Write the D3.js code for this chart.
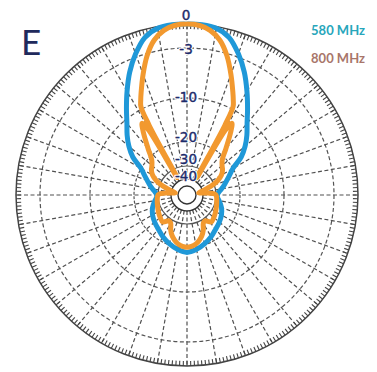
<!DOCTYPE html>
<html>
<head>
<meta charset="utf-8">
<script src="https://cdn.jsdelivr.net/npm/d3@7"></script>
<style>
  body { margin: 0; background: #ffffff; }
  svg { display: block; }
</style>
</head>
<body>
<svg id="chart" width="377" height="372"></svg>
<script>
// Relative gain rings (dB) and the labels printed on the 0° spoke
const ringLevels = [0, -3, -10, -20, -30, -40, -50];
const ringLabels = ["0", "-3", "-10", "-20", "-30", "-40"];

// Legend / plane caption
const seriesNames = ["580 MHz", "800 MHz"];
const planeLabel = "E";

// 580 MHz E-plane pattern: azimuth (deg, clockwise from boresight) and gain (dB)
const angles580 = [-180, -170, -160, -150, -140, -130, -120, -110, -100, -95, -90, -85, -80, -75, -70, -65, -60, -55, -50, -45, -40, -35, -30, -25, -20, -15, -10, -5,
  0, 5, 10, 15, 20, 25, 30, 35, 40, 45, 50, 55, 60, 65, 70, 75, 80, 85, 90, 95, 100, 110, 120, 130, 140, 150, 160, 170];
const gain580 = [-19, -19.5, -20.5, -22, -23.5, -24.5, -25.5, -26.8, -28.5, -29.3, -29.5, -28.8, -27.5, -26, -24.5, -22.5, -20, -17, -14.8, -12.8, -10.8, -8.8, -6.8, -4.6, -2.6, -1.0, -0.2, 0,
  0, 0, -0.2, -1.0, -2.6, -4.6, -6.8, -8.8, -10.8, -12.8, -14.8, -17, -20, -22.5, -24.5, -26, -27.5, -28.8, -29.5, -29.3, -28.5, -26.8, -25.5, -24.5, -23.5, -22, -20.5, -19.5];

// 800 MHz E-plane pattern
const angles800 = [-180, -175, -170, -165, -160, -155, -150, -145, -138, -130, -120, -110, -100, -90, -87, -84, -80, -75, -70, -65, -60, -55, -50, -45, -40, -35, -32, -30.5, -29.5, -28.5, -27.5, -26, -24, -20, -16, -12, -8, -4,
  0, 4, 8, 12, 16, 20, 24, 26, 27.5, 28.5, 29.5, 30.5, 32, 35, 40, 45, 50, 55, 60, 65, 70, 75, 80, 84, 87, 90, 100, 110, 120, 130, 138, 145, 150, 155, 160, 165, 170, 175];
const gain800 = [-20.3, -20.6, -21.3, -22.5, -24, -26, -28.5, -29, -27, -27.5, -28.3, -29, -29.5, -30, -32, -37, -46, -40, -33, -28, -25.5, -24, -23, -21.3, -18.3, -14.8, -12.8, -15, -37, -14, -9.6, -8.8, -7.8, -5.6, -3.3, -1.6, -0.6, -0.1,
  0, -0.1, -0.6, -1.6, -3.3, -5.6, -7.8, -8.8, -9.6, -14, -37, -15, -12.8, -14.8, -18.3, -21.3, -23, -24, -25.5, -28, -33, -40, -46, -37, -32, -30, -29.5, -29, -28.3, -27.5, -27, -29, -28.5, -26, -24, -22.5, -21.3, -20.6];

const seriesColors = ["#1f98d8", "#f2992f"];
const legendColors = ["#27a6bb", "#a8766a"];

// ---- layout ----
const cx = 187, cy = 195;
const outerR = 171;

// Log-style radial scale: dB -> radius
const rScale = d3.scaleLinear()
  .domain([-50, -40, -30, -20, -10, -3, 0])
  .range([9, 16, 29, 53, 97, 147, outerR])
  .clamp(true);

const rad = a => a * Math.PI / 180;

const svg = d3.select("#chart");
const g = svg.append("g").attr("transform", `translate(${cx},${cy})`);

// radial spokes every 10°
g.append("g").selectAll("line")
  .data(d3.range(0, 360, 10))
  .join("line")
  .attr("x1", a => rScale(-40) * Math.sin(rad(a)))
  .attr("y1", a => -rScale(-40) * Math.cos(rad(a)))
  .attr("x2", a => outerR * Math.sin(rad(a)))
  .attr("y2", a => -outerR * Math.cos(rad(a)))
  .attr("stroke", "#505050")
  .attr("stroke-width", 1.2)
  .attr("stroke-dasharray", "4,2.5");

// gain rings
g.append("g").selectAll("circle")
  .data(ringLevels.slice(1))
  .join("circle")
  .attr("r", d => rScale(d))
  .attr("fill", "none")
  .attr("stroke", d => d <= -40 ? "#333" : "#555")
  .attr("stroke-width", d => d <= -40 ? 1.4 : 1.2)
  .attr("stroke-dasharray", d => d >= -10 ? "4,2.5" : (d === -20 ? "3,1.5" : null));

// outer ring with inward degree ticks
g.append("circle")
  .attr("r", outerR)
  .attr("fill", "none")
  .attr("stroke", "#444")
  .attr("stroke-width", 1.5);

g.append("g").selectAll("line")
  .data(d3.range(0, 360, 1.25))
  .join("line")
  .attr("x1", a => outerR * Math.sin(rad(a)))
  .attr("y1", a => -outerR * Math.cos(rad(a)))
  .attr("x2", a => (outerR - 5) * Math.sin(rad(a)))
  .attr("y2", a => -(outerR - 5) * Math.cos(rad(a)))
  .attr("stroke", "#444")
  .attr("stroke-width", 1.1);

// patterns
const radial = d3.lineRadial()
  .angle(d => rad(d[0]))
  .radius(d => rScale(d[1]))
  .curve(d3.curveCatmullRomClosed.alpha(0.5));

const series = [d3.zip(angles580, gain580), d3.zip(angles800, gain800)];

g.append("g").selectAll("path")
  .data(series)
  .join("path")
  .attr("d", radial)
  .attr("fill", "none")
  .attr("stroke", (d, i) => seriesColors[i])
  .attr("stroke-width", 5)
  .attr("stroke-linejoin", "round");

// ring labels along the boresight spoke: a white halo layer, then the text
const labelOffset = [-9, 1, -1, -5, -7, -3];
const labelLayer = g.append("g")
  .attr("text-anchor", "middle")
  .attr("font-family", "'DejaVu Sans', 'Noto Sans', sans-serif")
  .attr("font-size", 13.5);

["halo", "text"].forEach(kind => {
  labelLayer.append("g").selectAll("text")
    .data(ringLabels)
    .join("text")
    .attr("x", -1)
    .attr("y", (d, i) => -rScale(ringLevels[i]) + labelOffset[i])
    .attr("dy", "0.35em")
    .attr("fill", kind === "halo" ? "#ffffff" : "#1d2b6b")
    .attr("stroke", kind === "halo" ? "#ffffff" : "#1d2b6b")
    .attr("stroke-width", kind === "halo" ? 2.5 : 0.4)
    .attr("stroke-linejoin", "round")
    .text(d => d);
});

// legend
svg.append("g").selectAll("text")
  .data(seriesNames)
  .join("text")
  .attr("x", 365)
  .attr("y", (d, i) => 35 + i * 28)
  .attr("text-anchor", "end")
  .attr("font-family", "Lato, 'Open Sans', sans-serif")
  .attr("font-weight", 700)
  .attr("font-size", 13)
  .attr("fill", (d, i) => legendColors[i])
  .text(d => d);

// plane caption
svg.append("text")
  .attr("x", 21)
  .attr("y", 55)
  .attr("font-family", "Lato, 'Open Sans', sans-serif")
  .attr("font-size", 35)
  .attr("fill", "#1f2a5c")
  .text(planeLabel);
</script>
</body>
</html>
